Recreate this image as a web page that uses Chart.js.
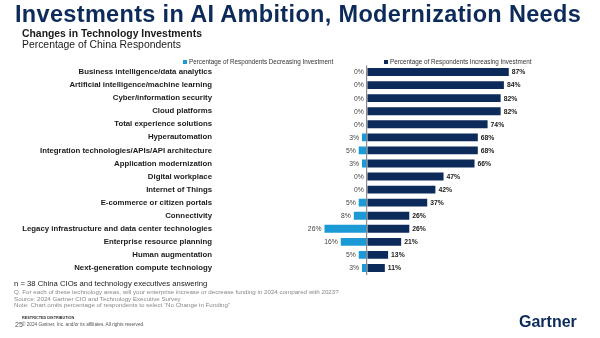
<!DOCTYPE html>
<html>
<head>
<meta charset="utf-8">
<script src="https://cdn.jsdelivr.net/npm/chart.js@4"></script>
<style>
  body { margin: 0; background: #fff; font-family: "Liberation Sans", Arial, sans-serif; }
  #wrap { position: relative; width: 600px; height: 338px; overflow: hidden; }
  #myChart { position: absolute; left: 0; top: 0; }
  .t { position: absolute; white-space: nowrap; line-height: 1; }
  #title { left: 15px; top: 3px; font-size: 23.5px; font-weight: bold; letter-spacing: 0.33px; color: #0c2a5a; }
  #sub1 { left: 22px; top: 28.5px; font-size: 10.4px; font-weight: bold; color: #1a1a1a; }
  #sub2 { left: 22px; top: 39.5px; font-size: 10.4px; color: #1a1a1a; }
  .leg { top: 58.5px; font-size: 6.3px; color: #333; }
  .leg i { display: inline-block; width: 4px; height: 4px; margin-right: 2px; vertical-align: 0px; }
  #n { left: 14px; top: 280px; font-size: 7.7px; color: #1a1a1a; }
  .note { left: 14px; font-size: 6.2px; color: #888; }
  #restr { left: 22px; top: 317px; font-size: 3.8px; font-weight: bold; color: #333; }
  #page { left: 15px; top: 321px; font-size: 7px; color: #555; }
  #copy { left: 22px; top: 323px; font-size: 4.7px; color: #555; }
  #logo { left: 519px; top: 314px; font-size: 16px; font-weight: bold; color: #0c2a5a; }
</style>
</head>
<body>
<div id="wrap">
  <canvas id="myChart" width="600" height="338"></canvas>
  <div class="t" id="title">Investments in AI Ambition, Modernization Needs</div>
  <div class="t" id="sub1">Changes in Technology Investments</div>
  <div class="t" id="sub2">Percentage of China Respondents</div>
  <div class="t leg" style="left:183px"><i style="background:#1b9ad6"></i>Percentage of Respondents Decreasing Investment</div>
  <div class="t leg" style="left:384px"><i style="background:#0c2a5a"></i>Percentage of Respondents Increasing Investment</div>
  <div class="t" id="n">n = 38 China CIOs and technology executives answering</div>
  <div class="t note" style="top:289px">Q. For each of these technology areas, will your enterprise increase or decrease funding in 2024 compared with 2023?</div>
  <div class="t note" style="top:295.5px">Source: 2024 Gartner CIO and Technology Executive Survey</div>
  <div class="t note" style="top:302px">Note: Chart omits percentage of respondents to select “No Change in Funding”</div>
  <div class="t" id="restr">RESTRICTED DISTRIBUTION</div>
  <div class="t" id="page">25</div>
  <div class="t" id="copy">© 2024 Gartner, Inc. and/or its affiliates. All rights reserved.</div>
  <div class="t" id="logo">Gartner</div>
</div>
<script>
var categories = [
  "Business intelligence/data analytics",
  "Artificial intelligence/machine learning",
  "Cyber/information security",
  "Cloud platforms",
  "Total experience solutions",
  "Hyperautomation",
  "Integration technologies/APIs/API architecture",
  "Application modernization",
  "Digital workplace",
  "Internet of Things",
  "E-commerce or citizen portals",
  "Connectivity",
  "Legacy infrastructure and data center technologies",
  "Enterprise resource planning",
  "Human augmentation",
  "Next-generation compute technology"
];
var decreasing = [0, 0, 0, 0, 0, 3, 5, 3, 0, 0, 5, 8, 26, 16, 5, 3];
var increasing = [87, 84, 82, 82, 74, 68, 68, 66, 47, 42, 37, 26, 26, 21, 13, 11];

// writes the % labels next to each bar
var valueLabels = {
  id: 'valueLabels',
  afterDatasetsDraw: function (chart) {
    var ctx = chart.ctx;
    ctx.save();
    ctx.textBaseline = 'middle';
    chart.data.datasets.forEach(function (ds, i) {
      var meta = chart.getDatasetMeta(i);
      meta.data.forEach(function (bar, j) {
        if (i === 0) {
          ctx.font = '6.8px "Liberation Sans", Arial, sans-serif';
          ctx.fillStyle = '#444';
          ctx.textAlign = 'right';
          ctx.fillText(decreasing[j] + '%', Math.min(bar.x, bar.base) - 3, bar.y + 0.5);
        } else {
          ctx.font = 'bold 6.8px "Liberation Sans", Arial, sans-serif';
          ctx.fillStyle = '#1a1a1a';
          ctx.textAlign = 'left';
          ctx.fillText(increasing[j] + '%', bar.x + 3, bar.y + 0.5);
        }
      });
    });
    ctx.restore();
  }
};

function displayChart() {
  var ctx = document.getElementById('myChart').getContext('2d');
  var chart = new Chart(ctx, {
    type: 'bar',
    data: {
      labels: categories,
      datasets: [{
        label: "Percentage of Respondents Decreasing Investment",
        backgroundColor: '#1b9ad6',
        data: decreasing.map(function (v) { return -v; }),
        categoryPercentage: 1,
        barPercentage: 0.6
      }, {
        label: "Percentage of Respondents Increasing Investment",
        backgroundColor: '#0c2a5a',
        data: increasing,
        categoryPercentage: 1,
        barPercentage: 0.6
      }]
    },
    options: {
      indexAxis: 'y',
      responsive: false,
      animation: false,
      layout: { padding: { left: 0, right: 70, top: 65.5, bottom: 63.5 } },
      plugins: { legend: { display: false }, tooltip: { enabled: false } },
      scales: {
        x: {
          stacked: true,
          min: -92.5,
          max: 100,
          ticks: { display: false, stepSize: 10 },
          border: { display: false },
          grid: {
            drawTicks: false,
            lineWidth: 1.2,
            color: function (c) { return c.tick && c.tick.value === 0 ? '#8a8a8a' : 'rgba(0,0,0,0)'; }
          }
        },
        y: {
          stacked: true,
          afterFit: function (scale) { scale.width = 216; },
          grid: { display: false, drawTicks: false },
          border: { display: false },
          ticks: {
            padding: 4,
            color: '#1a1a1a',
            font: { family: '"Liberation Sans", Arial, sans-serif', size: 7.8, weight: 'bold' }
          }
        }
      }
    },
    plugins: [valueLabels]
  });
}
displayChart();
</script>
</body>
</html>
